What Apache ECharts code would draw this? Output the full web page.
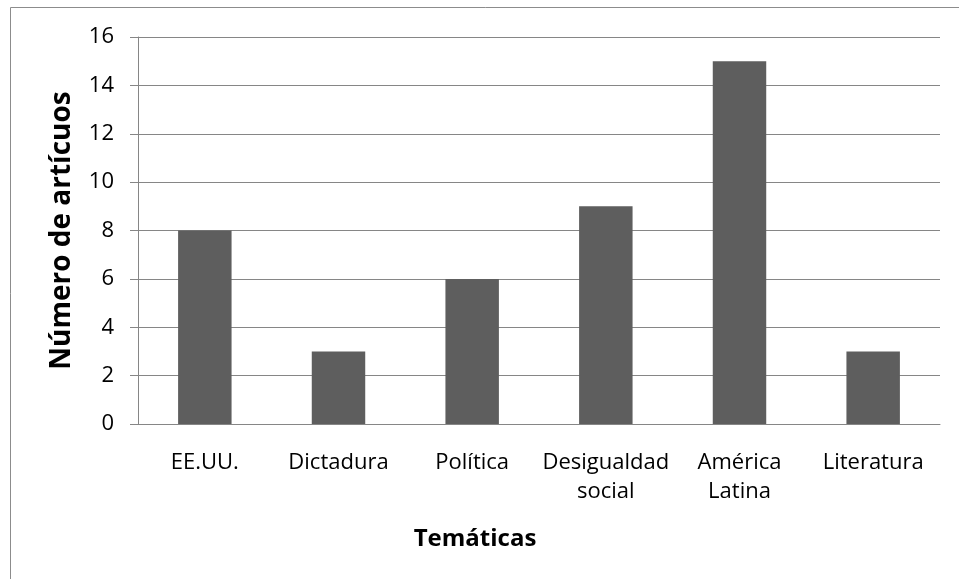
<!DOCTYPE html>
<html>
<head>
<meta charset="utf-8">
<script src="https://cdn.jsdelivr.net/npm/echarts@6/dist/echarts.min.js"></script>
<style>
  html, body { margin: 0; padding: 0; background: #fff; }
  #chart { width: 959px; height: 579px; }
</style>
</head>
<body>
<div id="chart"></div>
<script>
var categories = ['EE.UU.', 'Dictadura', 'Política', 'Desigualdad\nsocial', 'América\nLatina', 'Literatura'];
var articulos = [8, 3, 6, 9, 15, 3];

var myChart = echarts.init(document.getElementById('chart'));

var option = {
    animation: false,
    textStyle: { fontFamily: 'Open Sans' },
    graphic: [{
        type: 'rect',
        shape: { x: 10.5, y: 7.5, width: 960, height: 580 },
        style: { fill: 'none', stroke: '#8c8c8c', lineWidth: 1 }
    }],
    grid: { left: 138, top: 37, right: 19, bottom: 155 },
    xAxis: {
        type: 'category',
        data: categories,
        name: 'Temáticas',
        nameLocation: 'middle',
        nameGap: 103,
        // title sits left of the plot centre in the original
        nameTextStyle: { fontSize: 24, fontWeight: 'bold', color: '#000', padding: [0, 128, 0, 0] },
        axisLine: { lineStyle: { color: '#868686' } },
        axisTick: { show: false },
        axisLabel: { interval: 0, fontSize: 22, color: '#000', margin: 24, lineHeight: 29 }
    },
    yAxis: {
        type: 'value',
        min: 0,
        max: 16,
        interval: 2,
        name: 'Número de artícuos',
        nameLocation: 'middle',
        nameGap: 62,
        nameTextStyle: { fontSize: 28, fontWeight: 'bold', color: '#000' },
        axisLine: { show: true, lineStyle: { color: '#868686' } },
        axisTick: { show: true, length: 8, lineStyle: { color: '#868686' } },
        axisLabel: { fontSize: 22, color: '#000', margin: 24 },
        splitLine: { lineStyle: { color: '#868686' } }
    },
    series: [{
        type: 'bar',
        data: articulos,
        barWidth: '40%',
        itemStyle: { color: '#5e5e5e' }
    }]
};

myChart.setOption(option);
</script>
</body>
</html>
